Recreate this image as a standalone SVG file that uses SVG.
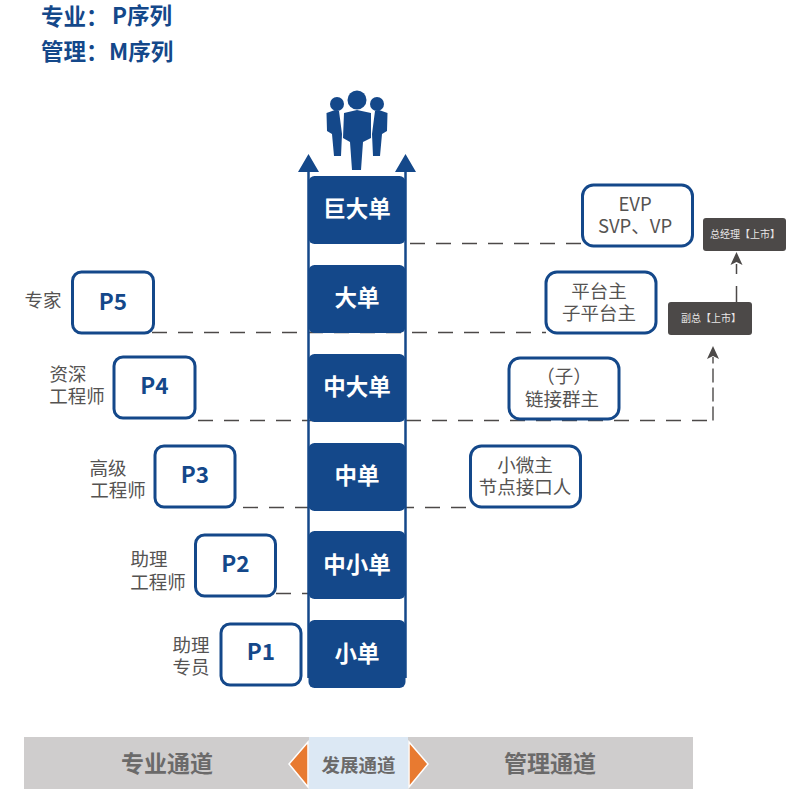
<svg xmlns="http://www.w3.org/2000/svg" width="786" height="789" viewBox="0 0 786 789">
<style>
text{font-family:"Noto Sans CJK SC","Noto Sans",sans-serif;text-anchor:middle}
.bar{fill:#14488a}
.bt{fill:#fff;font-size:22.500px;font-weight:700}
.box{fill:#fff;stroke:#14488a;stroke-width:3}
.p{fill:#14488a;font-size:22.500px;font-weight:700}
.t{fill:#555352;font-size:18.500px}
.d{fill:none;stroke:#4c4948;stroke-width:1.4;stroke-dasharray:15 11}
.dk{fill:#4c4948}
.dt{fill:#e8e6e6;font-size:10px}
.h{fill:#14488a;font-size:22.500px;font-weight:700;text-anchor:start}
.g{fill:#6b6a6a;font-size:23px;font-weight:700}
</style>
<defs>
<rect id="barshape" class="bar" x="308.500" y="0" width="97" height="68" rx="6"/>
<path id="ah" class="dk" d="M0 0L6 13L0 10L-6 13Z"/>
</defs>
<g id="title">
<text class="h" x="41" y="25">专业：</text><text class="h" x="112" y="24">P序列</text>
<text class="h" x="41" y="60">管理：</text><text class="h" x="109" y="60">M序列</text>
</g>
<g id="connectors">
<path class="d" d="M410 243.500H582"/>
<path class="d" d="M152 332.500H546"/>
<path class="d" d="M198 420.500H712.500"/>
<path class="d" d="M713 420.500V357" style="stroke-dasharray:14 5"/>
<path class="d" d="M243 507.500H470"/>
<path class="d" d="M276 593.500H308"/>
<path d="M736.500 302V286M736.500 274V264" fill="none" stroke="#4c4948" stroke-width="1.500"/>
<use href="#ah" x="736.500" y="252"/>
<use href="#ah" x="713" y="346"/>
<path d="M308.500 170V678M405.500 170V678" fill="none" stroke="#14488a" stroke-width="2.500"/>
<path class="bar" d="M308.500 154L319 172H298ZM405.500 154L416 172H395Z"/>
</g>
<g id="people" fill="#14488a">
<circle cx="357" cy="100" r="9.500"/><circle cx="337" cy="104" r="7"/><circle cx="377" cy="104" r="7"/>
<path d="M344 113L357 110L371 113L371 138L363 142L361 170H352L350 142L343 138Z"/>
<path d="M326.500 113L335 110L339 111L342 134L341 156H334L332 134L327 131Z"/>
<path d="M387.500 113L379 110L375 111L372 134L373 156H380L382 134L387 131Z"/>
</g>
<g id="n-juda"><use href="#barshape" y="176"/><text class="bt" x="357" y="217">巨大单</text></g>
<g id="n-da"><use href="#barshape" y="265"/><text class="bt" x="357" y="306">大单</text></g>
<g id="n-zhongda"><use href="#barshape" y="354"/><text class="bt" x="357" y="395">中大单</text></g>
<g id="n-zhong"><use href="#barshape" y="443"/><text class="bt" x="357" y="484">中单</text></g>
<g id="n-zhongxiao"><use href="#barshape" y="531"/><text class="bt" x="357" y="573">中小单</text></g>
<g id="n-xiao"><use href="#barshape" y="620"/><text class="bt" x="357" y="662">小单</text></g>
<g id="p5"><rect class="box" x="72.500" y="272" width="81" height="61" rx="9"/><text class="p" x="113" y="310">P5</text><text class="t" x="43" y="307">专家</text></g>
<g id="p4"><rect class="box" x="114" y="357" width="81" height="61" rx="9"/><text class="p" x="154.500" y="394">P4</text><text class="t" x="68" y="381">资深</text><text class="t" x="77" y="403">工程师</text></g>
<g id="p3"><rect class="box" x="155" y="446" width="80" height="61" rx="9"/><text class="p" x="195" y="483">P3</text><text class="t" x="108" y="475">高级</text><text class="t" x="118" y="497">工程师</text></g>
<g id="p2"><rect class="box" x="195.500" y="535" width="80" height="61" rx="9"/><text class="p" x="235.500" y="572">P2</text><text class="t" x="149" y="566">助理</text><text class="t" x="158" y="589">工程师</text></g>
<g id="p1"><rect class="box" x="221" y="624" width="80" height="61" rx="9"/><text class="p" x="261" y="660">P1</text><text class="t" x="191" y="652">助理</text><text class="t" x="191" y="674">专员</text></g>
<g id="evp"><rect class="box" x="582.500" y="185" width="110" height="61" rx="11"/><text class="t" x="635" y="211">EVP</text><text class="t" x="635" y="233">SVP、VP</text></g>
<g id="platform"><rect class="box" x="546" y="272" width="110" height="61" rx="11"/><text class="t" x="599" y="298">平台主</text><text class="t" x="599" y="320">子平台主</text></g>
<g id="chain"><rect class="box" x="509" y="358" width="110" height="61" rx="11"/><text class="t" x="564" y="383">（子）</text><text class="t" x="562" y="406">链接群主</text></g>
<g id="micro"><rect class="box" x="470.500" y="446" width="110" height="61" rx="11"/><text class="t" x="525" y="472">小微主</text><text class="t" x="525" y="494">节点接口人</text></g>
<g id="gm"><rect class="dk" x="703" y="218" width="83" height="33" rx="3"/><text class="dt" x="745" y="238">总经理【上市】</text></g>
<g id="vp"><rect class="dk" x="668" y="302" width="84" height="33" rx="3"/><text class="dt" x="711" y="322">副总【上市】</text></g>
<g id="footer">
<rect x="24" y="737" width="669" height="52" fill="#cfcdcd"/>
<rect x="309" y="737" width="99" height="52" fill="#dce8f4"/>
<path d="M308 742L289 764L308 787Z" fill="#e87a30" stroke="#fff" stroke-width="1.500"/>
<path d="M409 742L428 764L409 787Z" fill="#e87a30" stroke="#fff" stroke-width="1.500"/>
<text class="g" x="167" y="772">专业通道</text>
<text class="g" x="358.500" y="772" style="font-size:18.500px">发展通道</text>
<text class="g" x="550" y="772">管理通道</text>
</g>
</svg>
